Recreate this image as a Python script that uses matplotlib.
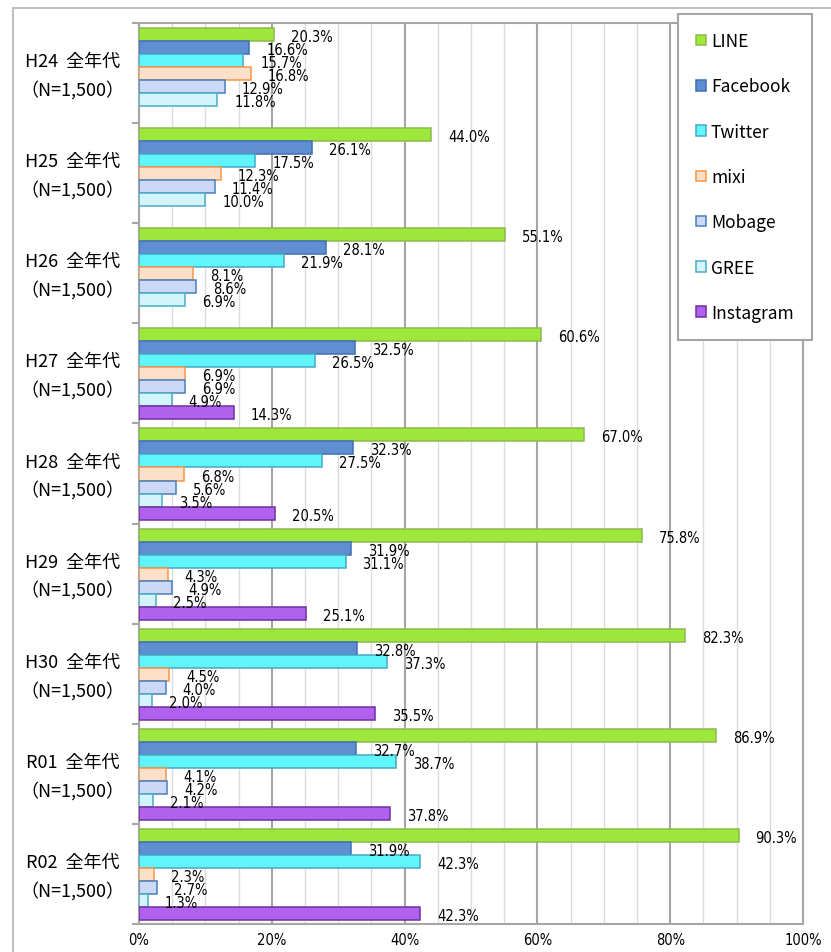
import numpy as np
import matplotlib.pyplot as plt
from matplotlib.patches import Patch, Rectangle

groups = ['H24', 'H25', 'H26', 'H27', 'H28', 'H29', 'H30', 'R01', 'R02']
series = ['LINE', 'Facebook', 'Twitter', 'mixi', 'Mobage', 'GREE', 'Instagram']

line_vals = [20.3, 44.0, 55.1, 60.6, 67.0, 75.8, 82.3, 86.9, 90.3]
facebook_vals = [16.6, 26.1, 28.1, 32.5, 32.3, 31.9, 32.8, 32.7, 31.9]
twitter_vals = [15.7, 17.5, 21.9, 26.5, 27.5, 31.1, 37.3, 38.7, 42.3]
mixi_vals = [16.8, 12.3, 8.1, 6.9, 6.8, 4.3, 4.5, 4.1, 2.3]
mobage_vals = [12.9, 11.4, 8.6, 6.9, 5.6, 4.9, 4.0, 4.2, 2.7]
gree_vals = [11.8, 10.0, 6.9, 4.9, 3.5, 2.5, 2.0, 2.1, 1.3]
instagram_vals = [None, None, None, 14.3, 20.5, 25.1, 35.5, 37.8, 42.3]

face_colors = ['#9ee83c', '#5f8fd0', '#5ff5fa', '#fde0ca', '#cbd9f7', '#d3f4fa', '#b062ee']
edge_colors = ['#8db84e', '#3f6fb5', '#45a9c6', '#f79646', '#4a7ebb', '#4bacc6', '#7030a0']

cjk = ['Noto Sans CJK JP', 'DejaVu Sans']
grey = '#a6a6a6'

all_vals = [line_vals, facebook_vals, twitter_vals, mixi_vals, mobage_vals, gree_vals, instagram_vals]

fig = plt.figure(figsize=(8.31, 9.53), dpi=100)
ax = fig.add_axes([139 / 831, 1 - 925 / 953, 664 / 831, 901 / 953])

n = len(groups)
bar_h = 0.13
for j, vals in enumerate(all_vals):
    idx = [i for i, v in enumerate(vals) if v is not None]
    ys = np.array(idx) + 0.05 + bar_h * j + bar_h / 2
    vs = [vals[i] for i in idx]
    ax.barh(ys, vs, height=bar_h, color=face_colors[j], edgecolor=edge_colors[j],
            linewidth=1.1, zorder=3)
    for y, v in zip(ys, vs):
        ax.annotate(f'{v:.1f}%', (v, y), xytext=(17, -2), textcoords='offset pixels',
                    ha='left', va='center', fontsize=10.5, family='DejaVu Sans',
                    fontstretch='condensed', zorder=5)

ax.set_xlim(0, 100)
ax.set_ylim(n, 0)
ax.set_xticks(range(0, 101, 20))
ax.set_xticklabels([f'{t}%' for t in range(0, 101, 20)], fontsize=10.5, fontstretch='condensed')
ax.set_xticks(range(0, 101, 5), minor=True)
ax.grid(axis='x', which='major', color=grey, lw=1.5)
ax.grid(axis='x', which='minor', color='#dcdcdc', lw=1)
ax.set_axisbelow(True)
ax.set_yticks(range(n + 1))
ax.set_yticklabels([])
ax.tick_params(axis='y', direction='out', length=5, color=grey, width=1.5)
ax.tick_params(axis='x', which='both', length=0, pad=6)
for s in ax.spines.values():
    s.set_color(grey)
    s.set_linewidth(1.5)

for i, g in enumerate(groups):
    ax.annotate(f'{g}  全年代', xy=(0, i + 0.5), xycoords=('axes fraction', 'data'),
                xytext=(-19, 12), textcoords='offset pixels', ha='right', va='center',
                fontsize=13, family=cjk)
    ax.annotate('（N=1,500）', xy=(0, i + 0.5), xycoords=('axes fraction', 'data'),
                xytext=(-15, -16), textcoords='offset pixels', ha='right', va='center',
                fontsize=13, family=cjk)

handles = [Patch(facecolor=f, edgecolor=e, linewidth=1.1) for f, e in zip(face_colors, edge_colors)]
leg = ax.legend(handles, series, loc='upper left', bbox_to_anchor=(678 / 831, 1 - 15 / 953),
                bbox_transform=fig.transFigure, frameon=True, fancybox=False,
                edgecolor=grey, prop={'family': cjk, 'size': 12.5},
                handlelength=0.55, handleheight=0.55, handletextpad=0.3,
                labelspacing=1.57, borderpad=1.05, borderaxespad=0)
leg.get_frame().set_linewidth(1.5)
leg.get_frame().set_alpha(1)
leg.set_zorder(10)

fig.add_artist(Rectangle((13 / 831, -0.05), 1.0, 1 - 9 / 953 + 0.05, transform=fig.transFigure,
                         fill=False, edgecolor='#c0c0c0', lw=1.5))

fig.savefig('out.png', dpi=100)
